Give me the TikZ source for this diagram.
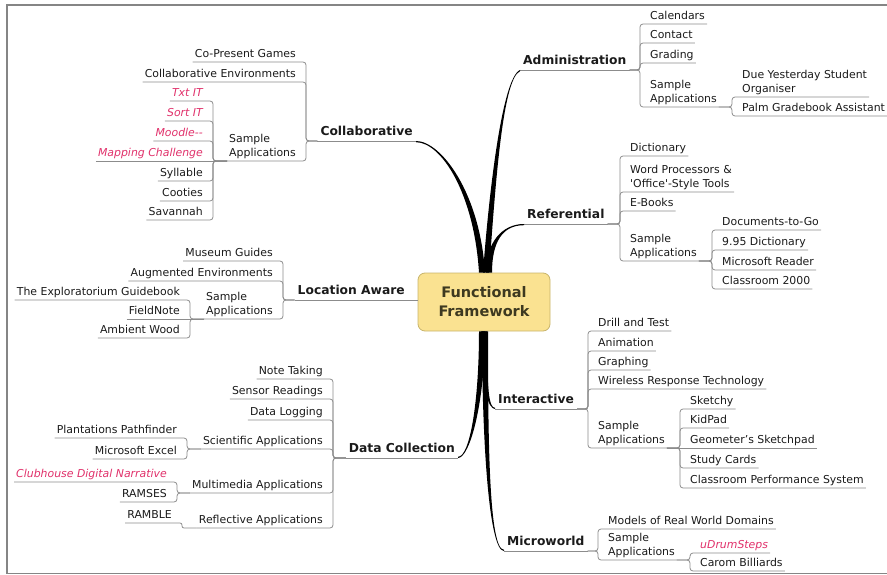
\documentclass[tikz,border=0pt]{standalone}
\usepackage{fontspec}
\setmainfont{DejaVu Sans}
\definecolor{boxyellow}{HTML}{FAE291}
\definecolor{boxedge}{HTML}{C8B46C}
\definecolor{boxink}{HTML}{3D3920}
\definecolor{ink}{HTML}{1A1A1A}
\definecolor{linkgray}{HTML}{8C8C8C}
\definecolor{appred}{HTML}{E0306A}
\definecolor{framegray}{HTML}{858585}

\newcommand\itemfont{\fontsize{10.9}{14}\selectfont}
\newcommand\topicfont{\bfseries\fontsize{12.3}{15}\selectfont}
\newcommand\hubfont{\bfseries\fontsize{14.5}{19}\selectfont}

% child -> parent, children on the left / on the right
\newcommand\linkl[2]{\draw[link] (#1.south west) -- (#1.south east) -- ++(8,0) |- (#2.south west);}
\newcommand\linkr[2]{\draw[link] (#1.south east) -- (#1.south west) -- ++(-8,0) |- (#2.south east);}
% tapered main branch: root, tip, root control, tip control, root shifts, tip shift
\newcommand\limb[7]{\fill[limb] ([xshift=#5]#1) .. controls +(#3) and +(#4) .. (#2)
	-- ([yshift=#7]#2) .. controls +(#4) and +(#3) .. ([xshift=#6]#1) -- cycle;}

\begin{document}
\begin{tikzpicture}[x=1pt,y=-1pt,
	item/.style={font=\itemfont,text=ink,inner xsep=2pt,inner ysep=2pt,text depth=2.6pt},
	app/.style={item,text=appred,font=\itemfont\itshape},
	two/.style={text depth={},align=left},
	topic/.style={font=\topicfont,text=ink,inner xsep=3pt,inner ysep=2pt,text depth=3pt},
	lft/.style={anchor=south east},
	rgt/.style={anchor=south west},
	hub/.style={rectangle,rounded corners=7pt,fill=boxyellow,draw=boxedge,line width=0.8pt,
		minimum width=132pt,minimum height=58pt,font=\hubfont,text=boxink,align=center},
	link/.style={draw=linkgray,line width=0.8pt,rounded corners=3pt},
	limb/.style={fill=black}]
	\useasboundingbox (0,0) rectangle (887,575);
	\draw[framegray,line width=1.8pt] (887,5) -- (7,5) -- (7,573.5) -- (887,573.5);

	\node[hub] (ff) at (484,302) {Functional\\Framework};

	% left side
	\node[topic,lft] (col) at (416,141) {Collaborative};
	\node[item,lft] (col1) at (298,62) {Co-Present Games};
	\node[item,lft] (col2) at (298,82) {Collaborative Environments};
	\node[item,two,lft] (col3) at (298,161) {Sample\\Applications};
	\node[app,lft] (col31) at (205,101) {Txt IT};
	\node[app,lft] (col32) at (205,121) {Sort IT};
	\node[app,lft] (col33) at (205,141) {Moodle-{}-};
	\node[app,lft] (col34) at (205,161) {Mapping Challenge};
	\node[item,lft] (col35) at (205,181) {Syllable};
	\node[item,lft] (col36) at (205,201) {Cooties};
	\node[item,lft] (col37) at (205,220) {Savannah};

	\node[topic,lft] (loc) at (408,300) {Location Aware};
	\node[item,lft] (loc1) at (275,261) {Museum Guides};
	\node[item,lft] (loc2) at (275,281) {Augmented Environments};
	\node[item,two,lft] (loc3) at (275,319) {Sample\\Applications};
	\node[item,lft] (loc31) at (182,300) {The Exploratorium Guidebook};
	\node[item,lft] (loc32) at (182,319) {FieldNote};
	\node[item,lft] (loc33) at (182,338) {Ambient Wood};

	\node[topic,lft] (dat) at (458,458) {Data Collection};
	\node[item,lft] (dat1) at (325,379) {Note Taking};
	\node[item,lft] (dat2) at (325,399) {Sensor Readings};
	\node[item,lft] (dat3) at (325,420) {Data Logging};
	\node[item,lft] (dat4) at (325,449) {Scientific Applications};
	\node[item,lft] (dat41) at (179,438) {Plantations Pathfinder};
	\node[item,lft] (dat42) at (179,459) {Microsoft Excel};
	\node[item,lft] (dat5) at (325,493) {Multimedia Applications};
	\node[app,lft] (dat51) at (169,482) {Clubhouse Digital Narrative};
	\node[item,lft] (dat52) at (169,502) {RAMSES};
	\node[item,lft] (dat6) at (325,528) {Reflective Applications};
	\node[item,lft] (dat61) at (174,523) {RAMBLE};

	% right side
	\node[topic,rgt] (adm) at (520,70) {Administration};
	\node[item,rgt] (adm1) at (648,24) {Calendars};
	\node[item,rgt] (adm2) at (648,43) {Contact};
	\node[item,rgt] (adm3) at (648,63) {Grading};
	\node[item,two,rgt] (adm4) at (648,107) {Sample\\Applications};
	\node[item,two,rgt] (adm41) at (740,97) {Due Yesterday Student\\Organiser};
	\node[item,rgt] (adm42) at (740,116) {Palm Gradebook Assistant};

	\node[topic,rgt] (ref) at (524,224) {Referential};
	\node[item,rgt] (ref1) at (628,156) {Dictionary};
	\node[item,two,rgt] (ref2) at (628,192) {Word Processors \&\\\textquotesingle Office\textquotesingle-Style Tools};
	\node[item,rgt] (ref3) at (628,211) {E-Books};
	\node[item,two,rgt] (ref4) at (628,261) {Sample\\Applications};
	\node[item,rgt] (ref41) at (720,230) {Documents-to-Go};
	\node[item,rgt] (ref42) at (720,250) {9.95 Dictionary};
	\node[item,rgt] (ref43) at (720,270) {Microsoft Reader};
	\node[item,rgt] (ref44) at (720,289) {Classroom 2000};

	\node[topic,rgt] (int) at (495,409) {Interactive};
	\node[item,rgt] (int1) at (596,331) {Drill and Test};
	\node[item,rgt] (int2) at (596,351) {Animation};
	\node[item,rgt] (int3) at (596,370) {Graphing};
	\node[item,rgt] (int4) at (596,389) {Wireless Response Technology};
	\node[item,two,rgt] (int5) at (596,448) {Sample\\Applications};
	\node[item,rgt] (int51) at (688,409) {Sketchy};
	\node[item,rgt] (int52) at (688,428) {KidPad};
	\node[item,rgt] (int53) at (688,448) {Geometer's Sketchpad};
	\node[item,rgt] (int54) at (688,468) {Study Cards};
	\node[item,rgt] (int55) at (688,488) {Classroom Performance System};

	\node[topic,rgt] (mic) at (504,551) {Microworld};
	\node[item,rgt] (mic1) at (606,529) {Models of Real World Domains};
	\node[item,two,rgt] (mic2) at (606,560) {Sample\\Applications};
	\node[app,rgt] (mic21) at (698,553) {uDrumSteps};
	\node[item,rgt] (mic22) at (698,571) {Carom Billiards};

	% thin connectors
	\foreach \c in {col,dat,adm,ref,int,mic} \draw[link] (\c.south west) -- (\c.south east);
	\foreach \c in {col1,col2,col3} \linkl{\c}{col};
	\foreach \c in {col31,col32,col33,col35,col36,col37} \linkl{\c}{col3};
	\draw[link] (col34.south west) -- (col3.south west);
	\foreach \c in {loc1,loc2,loc3} \linkl{\c}{loc};
	\foreach \c in {loc31,loc33} \linkl{\c}{loc3};
	\draw[link] (loc32.south west) -- (loc3.south west);
	\draw[link] (loc.south west) -- (loc.south east -| ff.west);
	\foreach \c in {dat1,dat2,dat3,dat4,dat5,dat6} \linkl{\c}{dat};
	\foreach \c in {dat41,dat42} \linkl{\c}{dat4};
	\foreach \c in {dat51,dat52} \linkl{\c}{dat5};
	\draw[link,rounded corners=2pt] (dat61.south west) -- (dat61.south east) -- ++(8,0) |- (dat6.south west);
	\foreach \c in {adm1,adm2,adm3,adm4} \linkr{\c}{adm};
	\foreach \c in {adm41,adm42} \linkr{\c}{adm4};
	\foreach \c in {ref1,ref2,ref3,ref4} \linkr{\c}{ref};
	\foreach \c in {ref41,ref42,ref43,ref44} \linkr{\c}{ref4};
	\foreach \c in {int1,int2,int3,int4,int5} \linkr{\c}{int};
	\foreach \c in {int51,int52,int54,int55} \linkr{\c}{int5};
	\draw[link] (int53.south east) -- (int5.south east);
	\foreach \c in {mic1,mic2} \linkr{\c}{mic};
	\foreach \c in {mic21,mic22} \linkr{\c}{mic2};

	% main branches
	\limb{ff.north}{col.south east}{-5,-80}{25,0}{1pt}{-5pt}{-1.2pt}
	\limb{ff.north}{adm.south west}{6,-80}{-18,8}{-1pt}{5pt}{-1.2pt}
	\limb{ff.north}{ref.south west}{0,-30}{-22,0}{2pt}{8pt}{-1.2pt}
	\limb{ff.south}{int.south west}{0,60}{-6,0}{-3pt}{3pt}{1.2pt}
	\limb{ff.south}{mic.south west}{0,110}{-15,0}{-2pt}{4pt}{1.2pt}
	\limb{ff.south}{dat.south east}{0,70}{12,0}{1pt}{-5pt}{1.2pt}
\end{tikzpicture}
\end{document}
